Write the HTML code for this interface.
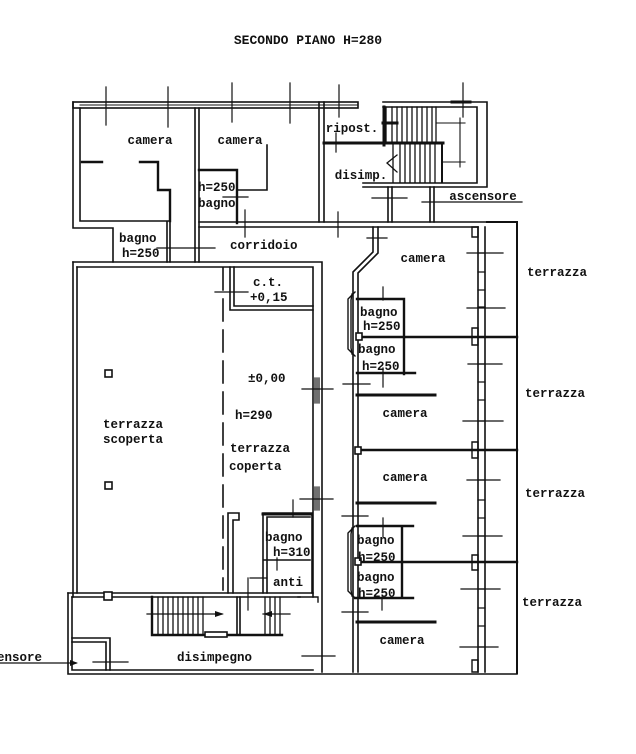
<!DOCTYPE html>
<html><head><meta charset="utf-8"><style>
html,body{margin:0;padding:0;background:#fff;}
svg{display:block;}
text{font-family:"Liberation Mono","DejaVu Sans Mono",monospace;font-weight:bold;font-size:12.5px;fill:#111;}
</style></head><body>
<svg width="636" height="754" viewBox="0 0 636 754" xmlns="http://www.w3.org/2000/svg">
<rect width="636" height="754" fill="#fff"/>
<g fill="none" stroke="#111" stroke-width="1.6" stroke-linecap="square">
<!-- top window band -->
<rect x="73" y="102" width="285" height="6"/>
<path d="M80 105H358" stroke-width="1"/>
<!-- left outer wall top block -->
<path d="M73 102V228H113V262M80 108V221H170M167 221V262M170 221V262"/>
<!-- left camera stubs -->
<path d="M82 162H102M140 162H158V190H170V221" stroke-width="2.4"/>
<!-- wall between cameras -->
<path d="M195 108V262M199 108V262"/>
<!-- middle bagno -->
<path d="M199 170H237V223" stroke-width="2.4"/>
<path d="M267 145V190H237"/>
<!-- middle camera right wall -->
<path d="M319 102V222M324 102V222"/>
<!-- corridor top wall -->
<path d="M199 222H487M199 227H478"/>
<!-- ripost bottom -->
<path d="M324 143H443" stroke-width="3"/>
<!-- stair box -->
<path d="M363 187H487V102H383M363 183H477V107H383"/>
<path d="M384 107V145" stroke-width="3"/>
<path d="M383 123H397" stroke-width="3"/>
<path d="M442 143V182" stroke-width="2"/>
<path d="M386 107V143M392 107V143M397 107V143M402 107V143M407 107V143M412 107V143M417 107V143M422 107V143M427 107V143M432 107V143M436 107V143" stroke-width="1.3"/>
<path d="M393 145V182M400 145V182M405 145V182M410 145V182M415 145V182M420 145V182M425 145V182M430 145V182M435 145V182" stroke-width="1.3"/>
<path d="M437 123H465M443 162H465M460 118V167" stroke-width="1.1"/>
<path d="M397 155L387 163L397 172" stroke-width="1.3"/>
<!-- ascensore walls -->
<path d="M388 187V222M392 187V222M430 187V222M434 187V222"/>
<!-- right extension & outer terrace -->
<path d="M487 222H517V673" stroke-width="2"/>
<!-- facade -->
<path d="M478 227V672M485 227V672"/>
<path d="M472 227H478V237H472Z M472 328H478V345H472Z M472 442H478V458H472Z M472 555H478V570H472Z M472 660H478V672H472Z" stroke-width="1.4"/>
<path d="M478 253H485M478 272H485M478 290H485M478 307H485M478 364H485M478 382H485M478 400H485M478 421H485M478 480H485M478 500H485M478 518H485M478 536H485M478 589H485M478 608H485M478 626H485M478 647H485" stroke-width="1.2"/>
<!-- separators -->
<path d="M357 337H517M357 450H517M357 562H517" stroke-width="2.4"/>
<path d="M357 395H435M357 503H435M357 622H435" stroke-width="3"/>
<!-- right rooms left wall -->
<path d="M373 227V252L353 272V672M378 227V253L358 273V672"/>
<!-- bagni right -->
<path d="M357 299H404V374M357 373H415" stroke-width="2.4"/>
<path d="M357 526H413M402 526V598M355 598H413" stroke-width="2.4"/>
<path d="M355 292L348 299V349L355 356M352 294L351 300V348L352 354" stroke-width="1.4"/>
<path d="M355 526L348 533V591L355 598M352 528L351 534V590L352 596" stroke-width="1.4"/>
<rect x="356" y="333" width="6" height="7" fill="#fff"/>
<rect x="355" y="447" width="6" height="7" fill="#fff"/>
<rect x="355" y="558" width="6" height="7" fill="#fff"/>
<!-- terrace -->
<path d="M73 262H322V672M77 267H313V597"/>
<path d="M73 262V597M77 267V593"/>
<path d="M315 378V403M317 378V403M319 378V403M315 487V510M317 487V510M319 487V510" stroke-width="1.2"/>
<!-- c.t. -->
<path d="M230 267V310H313M234 267V306H313"/>
<!-- dashed divider -->
<path d="M223 268V590" stroke-dasharray="22 9"/>
<rect x="105" y="370" width="7" height="7"/>
<rect x="105" y="482" width="7" height="7"/>
<!-- bottom of terrace -->
<path d="M68 593H313M72 597H152"/>
<!-- wall piece -->
<path d="M228 593V513H239V520H233V593"/>
<!-- bagno h=310 -->
<path d="M263 593V513H312V593M267 593V517H310M263 560H310"/>
<path d="M263 514H312" stroke-width="3"/>
<!-- bottom section -->
<path d="M68 593V674H517M72 597V670H313"/>
<path d="M72 638H110V670M72 642H106V670"/>
<rect x="104" y="592" width="8" height="8" fill="#fff"/>
<!-- bottom stairs -->
<path d="M152 597V635H282" stroke-width="2.4"/>
<path d="M152 597H300"/>
<path d="M158 597V634M163 597V634M168 597V634M173 597V634M178 597V634M183 597V634M188 597V634M193 597V634M198 597V634M203 597V634" stroke-width="1.3"/>
<path d="M237 597V635M240 597V635"/>
<path d="M265 597V634M270 597V634M275 597V634M280 597V634" stroke-width="1.3"/>
<rect x="205" y="632" width="22" height="5" fill="#fff"/>
<path d="M147 614H222M263 614H290" stroke-width="1.2"/>
<path d="M298 597H318V602" stroke-width="1.4"/>
<!-- crosses / marks -->
<g stroke-width="1.2">
<path d="M106 87V125M168 87V127M232 83V122M290 83V123M339 85V117M463 83V117"/>
<path d="M336 133V152M223 197H248M245 210V237M157 248H215"/>
<path d="M338 212V237M372 198H407M422 202H522"/>
<path d="M215 292H248"/>
<path d="M302 389H333M300 499H333M302 656H335"/>
<path d="M343 384H370M383 368V387M383 287V300M367 238H387"/>
<path d="M342 516H368M383 518V537M382 597V610M342 612H368"/>
<path d="M248 578V610M250 578H267M293 500V517M277 558V570"/>
<path d="M93 662H128M0 663H76"/>
<path d="M467 253H503M467 308H505M468 364H502M463 421H503M467 480H500M463 536H502M461 589H500M460 647H498"/>
</g>
<path d="M452 102H470" stroke-width="3"/>
</g>
<g fill="#111">
<path d="M224 614L215 611V617Z"/>
<path d="M263 614L272 611V617Z"/>
<path d="M78 663L70 660V666Z"/>
</g>
<!-- labels -->
<text x="308" y="44" text-anchor="middle" style="font-size:13px">SECONDO PIANO H=280</text>
<text x="150" y="144" text-anchor="middle">camera</text>
<text x="240" y="144" text-anchor="middle">camera</text>
<text x="352" y="132" text-anchor="middle">ripost.</text>
<text x="361" y="179" text-anchor="middle">disimp.</text>
<text x="483" y="200" text-anchor="middle">ascensore</text>
<text x="198" y="191">h=250</text>
<text x="198" y="207">bagno</text>
<text x="119" y="242">bagno</text>
<text x="122" y="257">h=250</text>
<text x="230" y="249">corridoio</text>
<text x="423" y="262" text-anchor="middle">camera</text>
<text x="557" y="276" text-anchor="middle">terrazza</text>
<text x="253" y="286">c.t.</text>
<text x="250" y="301">+0,15</text>
<text x="360" y="316">bagno</text>
<text x="363" y="330">h=250</text>
<text x="358" y="353">bagno</text>
<text x="362" y="370">h=250</text>
<text x="248" y="382">±0,00</text>
<text x="555" y="397" text-anchor="middle">terrazza</text>
<text x="235" y="419">h=290</text>
<text x="405" y="417" text-anchor="middle">camera</text>
<text x="103" y="428">terrazza</text>
<text x="103" y="443">scoperta</text>
<text x="230" y="452">terrazza</text>
<text x="229" y="470">coperta</text>
<text x="405" y="481" text-anchor="middle">camera</text>
<text x="555" y="497" text-anchor="middle">terrazza</text>
<text x="265" y="541">bagno</text>
<text x="273" y="556">h=310</text>
<text x="273" y="586">anti</text>
<text x="357" y="544">bagno</text>
<text x="358" y="561">h=250</text>
<text x="357" y="581">bagno</text>
<text x="358" y="597">h=250</text>
<text x="552" y="606" text-anchor="middle">terrazza</text>
<text x="402" y="644" text-anchor="middle">camera</text>
<text x="177" y="661">disimpegno</text>
<text x="42" y="661" text-anchor="end">ascensore</text>
</svg>
</body></html>
